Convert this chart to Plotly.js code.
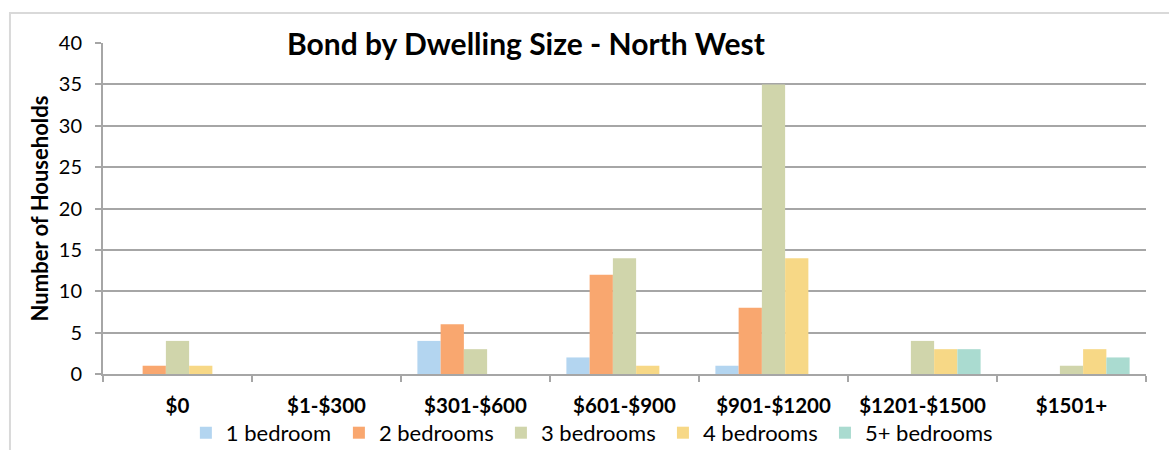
<!DOCTYPE html>
<html>
<head>
<meta charset="utf-8">
<script src="https://cdn.plot.ly/plotly-3.0.1.min.js"></script>
<style>
  html, body { margin: 0; padding: 0; background: #fff; }
  #chart { width: 1169px; height: 450px; }
</style>
</head>
<body>
<div id="chart"></div>
<script>
const categories = ["$0", "$1-$300", "$301-$600", "$601-$900", "$901-$1200", "$1201-$1500", "$1501+"];
const seriesNames = ["1 bedroom", "2 bedrooms", "3 bedrooms", "4 bedrooms", "5+ bedrooms"];
const oneBedroom   = [0, 0, 4, 2, 1, 0, 0];
const twoBedrooms  = [1, 0, 6, 12, 8, 0, 0];
const threeBedrooms = [4, 0, 3, 14, 35, 4, 1];
const fourBedrooms = [1, 0, 0, 1, 14, 3, 3];
const fivePlusBedrooms = [0, 0, 0, 0, 0, 3, 2];
const yTicks = [0, 5, 10, 15, 20, 25, 30, 35, 40];

const seriesValues = [oneBedroom, twoBedrooms, threeBedrooms, fourBedrooms, fivePlusBedrooms];
const colors = ["#b3d5f0", "#f9a76f", "#d0d5ab", "#f7d886", "#aadbd0"];
const legendIds = ["legend", "legend2", "legend3", "legend4", "legend5"];
const legendX = [0.1590, 0.2899, 0.4285, 0.5671, 0.7057];

const FONT = "Lato, 'Open Sans', sans-serif";

const traces = seriesNames.map((name, i) => ({
  type: "bar",
  name: name,
  x: categories,
  y: seriesValues[i],
  legend: legendIds[i],
  marker: { color: colors[i], line: { width: 0 } },
  hoverinfo: "x+y+name"
}));

const layout = {
  width: 1169,
  height: 450,
  margin: { l: 103, r: 23, t: 43, b: 76, autoexpand: false },
  paper_bgcolor: "#ffffff",
  plot_bgcolor: "#ffffff",
  barmode: "group",
  bargap: 0.22,
  bargroupgap: 0,
  font: { family: FONT, color: "#000" },
  showlegend: true,
  xaxis: {
    type: "category",
    categoryorder: "array",
    categoryarray: categories,
    showgrid: false,
    showline: true,
    linecolor: "#a6a6a6",
    linewidth: 2,
    ticks: "outside",
    tickson: "boundaries",
    ticklen: 6,
    tickcolor: "#a6a6a6",
    tickwidth: 2,
    ticklabelstandoff: 12,
    tickfont: { family: FONT, size: 20.5, color: "#000", weight: "bold" },
    fixedrange: true
  },
  yaxis: {
    range: [0, 40],
    tickvals: yTicks,
    ticktext: yTicks.map(String),
    showgrid: true,
    gridcolor: "#a6a6a6",
    gridwidth: 2,
    zeroline: false,
    showline: true,
    linecolor: "#a6a6a6",
    linewidth: 2,
    ticks: "outside",
    ticklen: 6,
    tickcolor: "#a6a6a6",
    tickwidth: 2,
    ticklabelstandoff: 9,
    tickfont: { family: FONT, size: 20, color: "#000" },
    title: {
      text: "Number of Households",
      font: { family: FONT, size: 22, color: "#000", weight: "bold" },
      standoff: 4
    },
    fixedrange: true
  },
  annotations: [{
    text: "<b>Bond by Dwelling Size - North West</b>",
    xref: "paper", yref: "paper",
    x: 0.4056, y: 1.0,
    xanchor: "center", yanchor: "middle",
    showarrow: false,
    bgcolor: "#ffffff",
    borderpad: 6,
    font: { family: FONT, size: 30, color: "#000" }
  }],
  shapes: [{
    type: "path",
    xref: "paper", yref: "paper",
    path: "M -0.0892 -0.3 L -0.0892 1.0906 L 1.2 1.0906",
    line: { color: "#d9d9d9", width: 2 },
    layer: "below"
  }]
};

legendIds.forEach((id, i) => {
  layout[id] = {
    orientation: "h",
    xref: "container", yref: "container",
    x: legendX[i], xanchor: "left",
    y: 0.038, yanchor: "middle",
    font: { family: FONT, size: 22, color: "#000" },
    itemwidth: 30,
    bgcolor: "rgba(0,0,0,0)"
  };
});

Plotly.newPlot("chart", traces, layout, { displayModeBar: false, staticPlot: true });
</script>
</body>
</html>
